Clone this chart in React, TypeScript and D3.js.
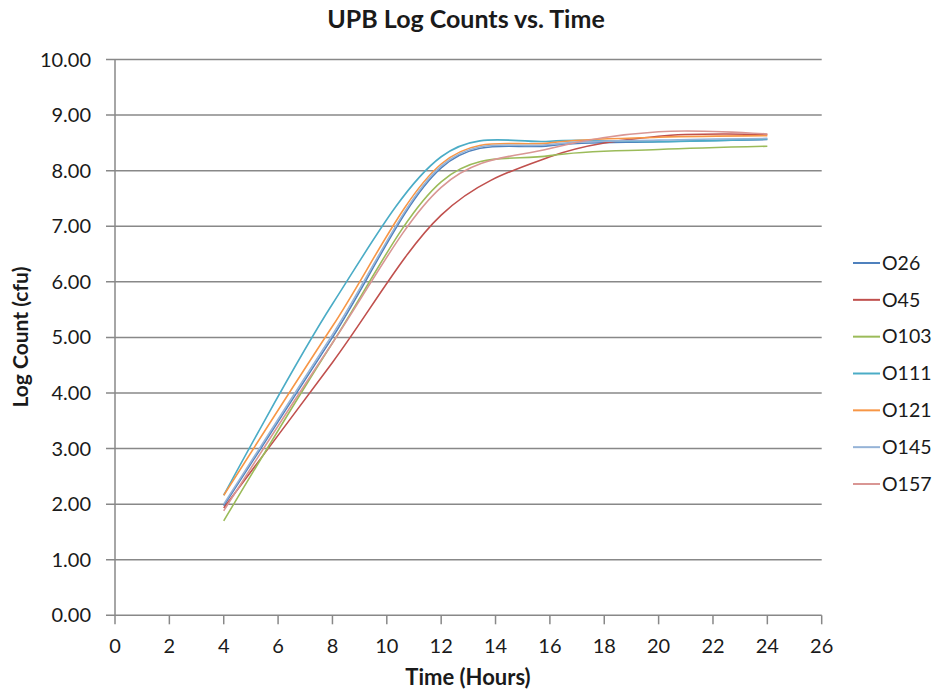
import * as d3 from "d3";

// sampling hours shared by all strains
const hours = [4, 8, 12, 16, 20, 24];

const strains = ["O26", "O45", "O103", "O111", "O121", "O145", "O157"];

const o26 = [1.97, 5.0, 8.05, 8.45, 8.52, 8.56];
const o45 = [1.93, 4.55, 7.2, 8.25, 8.62, 8.65];
const o103 = [1.7, 4.9, 7.8, 8.27, 8.38, 8.44];
const o111 = [2.16, 5.6, 8.25, 8.53, 8.52, 8.57];
const o121 = [2.16, 5.2, 8.12, 8.5, 8.6, 8.63];
const o145 = [2.0, 5.05, 8.08, 8.47, 8.55, 8.58];
const o157 = [1.88, 4.9, 7.7, 8.4, 8.7, 8.66];

const seriesValues = [o26, o45, o103, o111, o121, o145, o157];
const colors = ["#4F81BD", "#C0504D", "#9BBB59", "#4BACC6", "#F79646", "#95B3D7", "#D99694"];

const xTicks = d3.range(0, 27, 2);
const yTicks = d3.range(0, 11, 1);

const W = 938;
const H = 698;
const FONT = "Lato, 'Open Sans', sans-serif";

export default function App() {
  const x = d3.scaleLinear().domain([0, 26]).range([115, 821.7]);
  const y = d3.scaleLinear().domain([0, 10]).range([615.3, 59.5]);

  const line = d3
    .line<[number, number]>()
    .x((d) => x(d[0]))
    .y((d) => y(d[1]))
    .curve(d3.curveCardinal.tension(0));

  const legendY = d3.scalePoint<string>().domain(strains).range([263, 484]);

  return (
    <svg
      width={W}
      height={H}
      style={{ position: "absolute", left: 0, top: 0, background: "#fff" }}
      fontFamily={FONT}
    >
      <rect width={W} height={H} fill="#fff" />
      <text x={466} y={28} textAnchor="middle" fontSize={25} fontWeight="bold" fill="#1a1a1a">
        UPB Log Counts vs. Time
      </text>

      {/* gridlines + y ticks */}
      {yTicks.map((t) => (
        <g key={t}>
          <line x1={106} x2={x(26)} y1={y(t)} y2={y(t)} stroke="#888" strokeWidth={1.5} />
          <text x={91} y={y(t)} dy="0.35em" textAnchor="end" fontSize={20} fill="#1a1a1a">
            {t.toFixed(2)}
          </text>
        </g>
      ))}
      <line x1={x(0)} x2={x(0)} y1={y(10)} y2={y(0)} stroke="#888" strokeWidth={1.5} />

      {/* x ticks */}
      {xTicks.map((t) => (
        <g key={t}>
          <line x1={x(t)} x2={x(t)} y1={y(0)} y2={y(0) + 9} stroke="#888" strokeWidth={1.5} />
          <text x={x(t)} y={646} dy="0.35em" textAnchor="middle" fontSize={20} fill="#1a1a1a">
            {t}
          </text>
        </g>
      ))}

      {/* series */}
      {seriesValues.map((vals, i) => (
        <path
          key={strains[i]}
          d={line(hours.map((h, j) => [h, vals[j]] as [number, number])) ?? ""}
          fill="none"
          stroke={colors[i]}
          strokeWidth={1.6}
        />
      ))}

      {/* axis titles */}
      <text x={468} y={685} textAnchor="middle" fontSize={22} fontWeight="bold" fill="#1a1a1a">
        Time (Hours)
      </text>
      <text
        transform={`translate(21,337) rotate(-90)`}
        dy="0.35em"
        textAnchor="middle"
        fontSize={21}
        fontWeight="bold"
        fill="#1a1a1a"
      >
        Log Count (cfu)
      </text>

      {/* legend */}
      {strains.map((s, i) => (
        <g key={s} transform={`translate(0,${legendY(s)})`}>
          <line x1={853} x2={880} stroke={colors[i]} strokeWidth={2} />
          <text x={882} dy="0.35em" fontSize={19.5} fill="#1a1a1a">
            {s}
          </text>
        </g>
      ))}
    </svg>
  );
}
